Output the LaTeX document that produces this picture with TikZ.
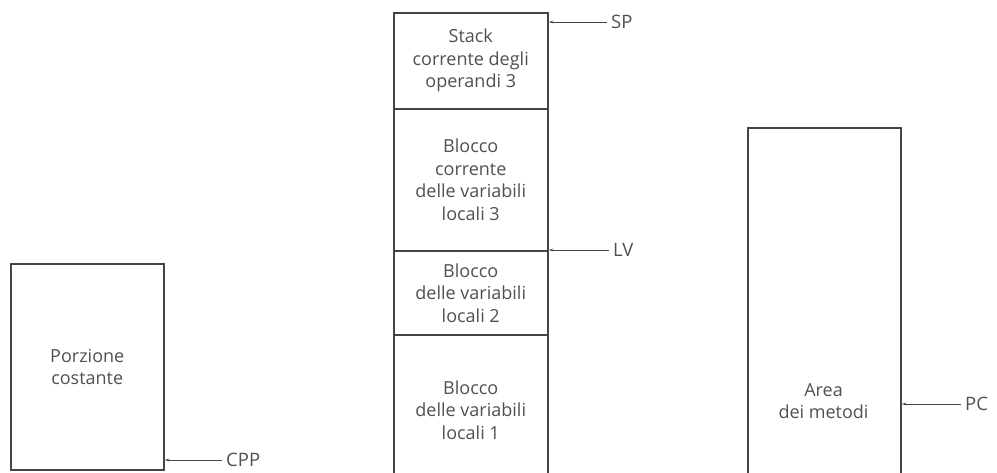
\documentclass[tikz,border=0pt]{standalone}
\usepackage{fontspec}
\setmainfont{Open Sans}
\usetikzlibrary{arrows.meta}
\definecolor{ink}{HTML}{444444}
\definecolor{txt}{HTML}{505050}
\begin{document}
\begin{tikzpicture}[x=1pt,y=-1pt,
  mem/.style={draw=ink,line width=1.5pt,anchor=north west,inner sep=0pt,
    font=\fontsize{18}{22.5}\selectfont,text=txt,align=center},
  lbl/.style={anchor=west,inner xsep=4pt,inner ysep=0pt,text=txt,font=\fontsize{18.5}{20}\selectfont},
  ptr/.style={draw=ink,line width=0.9pt,-{Stealth[length=5pt,width=2.5pt]}}]
\useasboundingbox (0,0) rectangle (997,472);
% left box
\node[mem,minimum width=153pt,minimum height=206pt] (cp) at (10,263) {Porzione\\costante};
% stack
\node[mem,minimum width=154pt,minimum height=96pt] (s1) at (393,12) {Stack\\corrente degli\\operandi 3};
\node[mem,minimum width=154pt,minimum height=142pt] (s2) at (393,108) {Blocco\\corrente\\delle variabili\\locali 3};
\node[mem,minimum width=154pt,minimum height=84pt] (s3) at (393,250) {Blocco\\delle variabili\\locali 2};
\node[mem,minimum width=154pt,minimum height=150pt] (s4) at (393,334) {Blocco\\delle variabili\\locali 1};
% method area
\node[mem,minimum width=153pt,minimum height=360pt] (ma) at (747,127) {};
\node[text=txt,font=\fontsize{18}{22}\selectfont,align=center] (matx) at (823.5,401) {Area\\dei metodi};
% labels
\node[lbl] (sp) at (607,22) {SP};
\node[lbl] (lv) at (609,250) {LV};
\node[lbl] (cpp) at (222,460) {CPP};
\node[lbl] (pc) at (961,404) {PC};
\draw[ptr] (sp.west) -- (sp.west -| s1.east);
\draw[ptr] (lv.west) -- (lv.west -| s2.east);
\draw[ptr] (cpp.west) -- (cpp.west -| cp.east);
\draw[ptr] (pc.west) -- (pc.west -| ma.east);
\end{tikzpicture}
\end{document}
